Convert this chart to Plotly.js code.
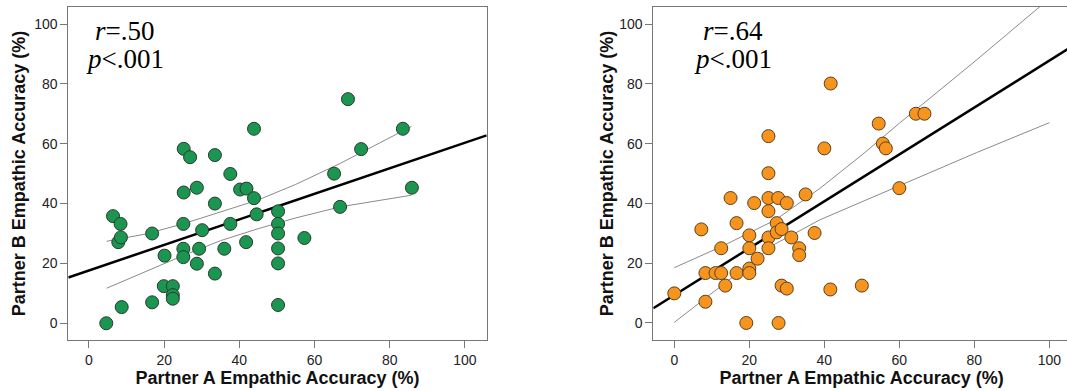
<!DOCTYPE html>
<html>
<head>
<meta charset="utf-8">
<script src="https://cdn.plot.ly/plotly-3.0.1.min.js"></script>
<style>
html,body{margin:0;padding:0;overflow:hidden;background:#fff;}
#chart{width:1075px;height:391px;}
</style>
</head>
<body>
<div id="chart"></div>
<script>
// ---- Left panel (green) ----
const leftX = [4.6, 6.4, 7.8, 8.5, 8.4, 8.7, 16.8, 16.8, 19.9, 20.1, 22.3, 22.3, 22.3, 25.1, 25.1, 25.1, 25.2, 25.2, 26.9, 28.7, 28.7, 29.3, 30.1, 33.5, 33.5, 33.5, 36.0, 37.6, 37.6, 40.2, 41.9, 41.8, 43.9, 43.9, 44.6, 50.3, 50.3, 50.3, 50.3, 50.3, 50.3, 57.3, 65.2, 66.8, 68.9, 72.4, 83.5, 85.9];
const leftY = [0, 35.8, 27.1, 28.7, 33.2, 5.4, 30.0, 7.0, 12.4, 22.6, 12.4, 9.4, 8.2, 33.2, 24.9, 22.1, 43.7, 58.3, 55.5, 45.3, 19.9, 24.9, 31.1, 56.2, 40.0, 16.6, 24.9, 49.9, 33.2, 44.7, 45.0, 27.1, 65.0, 41.8, 36.4, 37.4, 33.2, 30.0, 25.0, 20.0, 6.1, 28.5, 50.0, 38.9, 74.9, 58.2, 65.0, 45.3];
const leftFitX = [-5.5, 105.8];
const leftFitY = [15.3, 62.8];
const leftBandX = [4.7, 15, 25, 35, 45, 55, 66.8, 85.8];
const leftUpper = [27.4, 29.8, 33.2, 37.2, 41.2, 46.4, 53.4, 65.8];
const leftLower = [11.7, 17.2, 22.6, 27.6, 31.6, 35.2, 38.9, 42.8];

// ---- Right panel (orange) ----
const rightX = [0, 7.2, 8.3, 8.3, 11.0, 12.5, 12.5, 13.6, 15.0, 16.6, 16.6, 19.2, 20.0, 20.0, 20.0, 20.0, 21.3, 22.2, 25.1, 25.1, 25.1, 25.1, 25.1, 25.1, 27.3, 27.3, 27.7, 27.8, 28.6, 28.6, 30.0, 30.0, 31.2, 33.3, 33.3, 35.0, 37.4, 40.0, 41.7, 41.6, 50.0, 54.5, 55.6, 56.4, 60.0, 64.4, 66.7];
const rightY = [9.9, 31.3, 16.7, 7.1, 16.7, 25.0, 16.7, 12.5, 41.8, 33.4, 16.7, 0, 29.3, 25.0, 18.2, 16.7, 40.1, 21.5, 62.5, 50.1, 41.8, 37.4, 28.6, 25.0, 33.4, 30.3, 41.8, 0, 31.4, 12.5, 40.1, 11.5, 28.6, 25.0, 22.7, 43.0, 30.1, 58.4, 80.1, 11.2, 12.5, 66.7, 60.0, 58.4, 45.1, 70.0, 70.0];
const rightFitX = [-5.6, 105.5];
const rightFitY = [4.9, 92.1];
const rightBandX = [0, 13, 27, 38.8, 50, 60, 80.6, 100];
const rightUpper = [18.5, 25.8, 34.5, 45.0, 56.2, 66.8, 88.0, 108.5];
const rightLower = [0.2, 12.8, 26.5, 34.5, 40.6, 45.8, 57.0, 67.0];

const tickVals = [0, 20, 40, 60, 80, 100];
const xTitle = 'Partner A Empathic Accuracy (%)';
const yTitle = 'Partner B Empathic Accuracy (%)';
const statsLeft = ['<i>r</i>=.50', '<i>p</i>&lt;.001'];
const statsRight = ['<i>r</i>=.64', '<i>p</i>&lt;.001'];

const W = 1075;
const thin = {color: '#8a8a8a', width: 1};
const thick = {color: '#000', width: 2.5};

const traces = [
  {x: leftBandX, y: leftUpper, mode: 'lines', line: thin, xaxis: 'x', yaxis: 'y', hoverinfo: 'skip'},
  {x: leftBandX, y: leftLower, mode: 'lines', line: thin, xaxis: 'x', yaxis: 'y', hoverinfo: 'skip'},
  {x: leftFitX, y: leftFitY, mode: 'lines', line: thick, xaxis: 'x', yaxis: 'y'},
  {x: leftX, y: leftY, mode: 'markers', xaxis: 'x', yaxis: 'y',
   marker: {size: 13, color: '#1b9650', line: {color: '#2b3a2f', width: 1}}},
  {x: rightBandX, y: rightUpper, mode: 'lines', line: thin, xaxis: 'x2', yaxis: 'y2', hoverinfo: 'skip'},
  {x: rightBandX, y: rightLower, mode: 'lines', line: thin, xaxis: 'x2', yaxis: 'y2', hoverinfo: 'skip'},
  {x: rightFitX, y: rightFitY, mode: 'lines', line: thick, xaxis: 'x2', yaxis: 'y2'},
  {x: rightX, y: rightY, mode: 'markers', xaxis: 'x2', yaxis: 'y2',
   marker: {size: 13, color: '#f7941d', line: {color: '#5a4020', width: 1}}}
];

function axis(extra) {
  return Object.assign({
    showline: true, mirror: true, linecolor: '#777', linewidth: 1,
    ticks: 'outside', ticklen: 7, tickcolor: '#777', tickwidth: 1,
    showgrid: false, zeroline: false, tickvals: tickVals,
    tickfont: {family: 'Liberation Sans, Arial, sans-serif', size: 14, color: '#222'},
    fixedrange: true
  }, extra);
}
const titleFont = {family: 'Liberation Sans, Arial, sans-serif', size: 18, color: '#111', weight: 'bold'};

const annFont = {family: 'Liberation Serif, Times New Roman, serif', size: 27, color: '#000'};
function ann(text, x, y, xa, ya) {
  return {text: text, x: x, y: y, xref: xa, yref: ya, xanchor: 'center', yanchor: 'middle',
          showarrow: false, font: annFont};
}

const layout = {
  width: W, height: 391,
  margin: {l: 0, r: 0, t: 7, b: 51},
  paper_bgcolor: '#fff', plot_bgcolor: '#fff',
  showlegend: false,
  xaxis: axis({domain: [68.3 / W, 486.7 / W], range: [-5.5, 105.8], anchor: 'y',
               title: {text: '<b>' + xTitle + '</b>', font: titleFont, standoff: 4}}),
  yaxis: axis({domain: [0, 1], range: [-5.6, 105.7], anchor: 'x',
               title: {text: '<b>' + yTitle + '</b>', font: titleFont, standoff: 3}}),
  xaxis2: axis({domain: [653.3 / W, 1070 / W], range: [-5.6, 105.5], anchor: 'y2',
                title: {text: '<b>' + xTitle + '</b>', font: titleFont, standoff: 4}}),
  yaxis2: axis({domain: [0, 1], range: [-5.7, 105.7], anchor: 'x2',
                title: {text: '<b>' + yTitle + '</b>', font: titleFont, standoff: 0}}),
  annotations: [
    ann(statsLeft[0], 9.6, 97.8, 'x', 'y'),
    ann(statsLeft[1], 9.6, 88.3, 'x', 'y'),
    ann(statsRight[0], 15.6, 97.8, 'x2', 'y2'),
    ann(statsRight[1], 15.6, 88.3, 'x2', 'y2')
  ]
};

Plotly.newPlot('chart', traces, layout, {displayModeBar: false, staticPlot: true});
</script>
</body>
</html>
